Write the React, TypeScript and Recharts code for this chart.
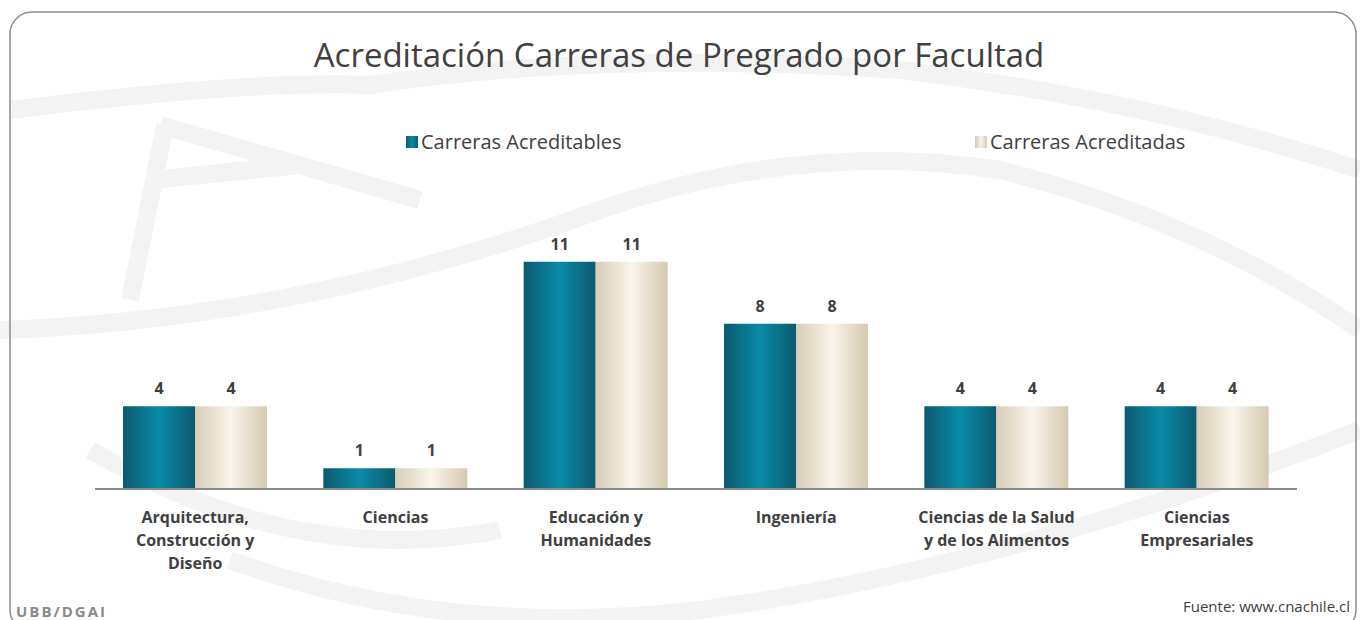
import { BarChart, Bar, XAxis, YAxis, LabelList } from 'recharts';

const facultades = [
  'Arquitectura,\nConstrucción y\nDiseño',
  'Ciencias',
  'Educación y\nHumanidades',
  'Ingeniería',
  'Ciencias de la Salud\ny de los Alimentos',
  'Ciencias\nEmpresariales',
];
const acreditables = [4, 1, 11, 8, 4, 4];
const acreditadas = [4, 1, 11, 8, 4, 4];

const data = facultades.map((name, i) => ({
  name,
  acreditables: acreditables[i],
  acreditadas: acreditadas[i],
}));

const FONT = '"Open Sans", "Liberation Sans", sans-serif';
const TEXT = '#404040';

const Tick = (props: any) => {
  const { x, y, payload } = props;
  const lines = String(payload.value).split('\n');
  return (
    <text x={x} y={y} textAnchor="middle" fontFamily={FONT} fontSize={16} fontWeight="bold" fill={TEXT}>
      {lines.map((l, i) => (
        <tspan key={i} x={x} dy={i === 0 ? 26 : 23}>{l}</tspan>
      ))}
    </text>
  );
};

const LegendBox = () => (
  <div style={{ position: 'absolute', left: 0, top: 128, width: 1360, height: 30, fontFamily: FONT, fontSize: 20, color: TEXT }}>
    <div style={{ position: 'absolute', left: 406, top: 0, display: 'flex', alignItems: 'center' }}>
      <span style={{ width: 12, height: 12, backgroundImage: 'linear-gradient(90deg,#0b5f73,#0a8aa6,#0b5f73)', marginRight: 3 }} />
      <span>Carreras Acreditables</span>
    </div>
    <div style={{ position: 'absolute', left: 975, top: 0, display: 'flex', alignItems: 'center' }}>
      <span style={{ width: 12, height: 12, backgroundImage: 'linear-gradient(90deg,#d6cab3,#f7f2e8,#d6cab3)', marginRight: 3 }} />
      <span>Carreras Acreditadas</span>
    </div>
  </div>
);

export default function App() {
  return (
    <div style={{ position: 'absolute', left: 0, top: 0, width: 1360, height: 620, background: '#fff', overflow: 'hidden' }}>
      <svg width={0} height={0} style={{ position: 'absolute' }}>
        <defs>
          <linearGradient id="gTeal" x1="0" y1="0" x2="1" y2="0">
            <stop offset="0%" stopColor="#0b5a6e" />
            <stop offset="50%" stopColor="#0a8ba8" />
            <stop offset="100%" stopColor="#0b5a6e" />
          </linearGradient>
          <linearGradient id="gCream" x1="0" y1="0" x2="1" y2="0">
            <stop offset="0%" stopColor="#d8ccb6" />
            <stop offset="50%" stopColor="#f9f5ec" />
            <stop offset="100%" stopColor="#d5c8b0" />
          </linearGradient>
        </defs>
      </svg>
      {/* faint watermark + frame */}
      <svg width={1360} height={620} style={{ position: 'absolute', left: 0, top: 0 }}>
        <g fill="none" stroke="#f3f3f3" strokeWidth={18}>
          <path d="M 10 110 Q 250 80 370 85 Q 600 50 900 70 Q 1150 100 1360 170" />
          <path d="M 165 125 L 130 300 M 160 125 L 420 200 M 150 180 L 300 165" />
          <path d="M 0 330 Q 300 320 600 210 Q 800 140 1000 170 Q 1200 220 1360 330" />
          <path d="M 230 560 Q 450 640 700 610 Q 1000 570 1360 430" />
          <path d="M 90 450 Q 300 570 500 530" />
        </g>
        <rect x={10} y={12} width={1346} height={620} rx={22} fill="none" stroke="#8c8c8c" strokeWidth={1.5} />
        <text x={679} y={67} textAnchor="middle" fontFamily={FONT} fontSize={33} fill={TEXT}>
          Acreditación Carreras de Pregrado por Facultad
        </text>
        <text x={16} y={617} fontFamily={FONT} fontSize={15} fontWeight="bold" fill="#8a8a8a" letterSpacing={2}>UBB/DGAI</text>
        <text x={1350} y={612} textAnchor="end" fontFamily={FONT} fontSize={15} fill={TEXT}>Fuente: www.cnachile.cl</text>
      </svg>
      <LegendBox />
      <div style={{ position: 'absolute', left: 0, top: 0 }}>
        <BarChart
          width={1360}
          height={620}
          data={data}
          margin={{ top: 241, right: 63, bottom: 0, left: 95 }}
          barGap={0}
          barSize={72}
        >
          <XAxis
            dataKey="name"
            axisLine={{ stroke: '#8a8a8a', strokeWidth: 2 }}
            tickLine={false}
            tick={<Tick />}
            interval={0}
            height={131}
          />
          <YAxis hide domain={[0, 12]} />
          <Bar dataKey="acreditables" name="Carreras Acreditables" fill="url(#gTeal)" isAnimationActive={false}>
            <LabelList dataKey="acreditables" position="top" offset={12} fontFamily={FONT} fontSize={16} fontWeight="bold" fill={TEXT} />
          </Bar>
          <Bar dataKey="acreditadas" name="Carreras Acreditadas" fill="url(#gCream)" isAnimationActive={false}>
            <LabelList dataKey="acreditadas" position="top" offset={12} fontFamily={FONT} fontSize={16} fontWeight="bold" fill={TEXT} />
          </Bar>
        </BarChart>
      </div>
    </div>
  );
}
